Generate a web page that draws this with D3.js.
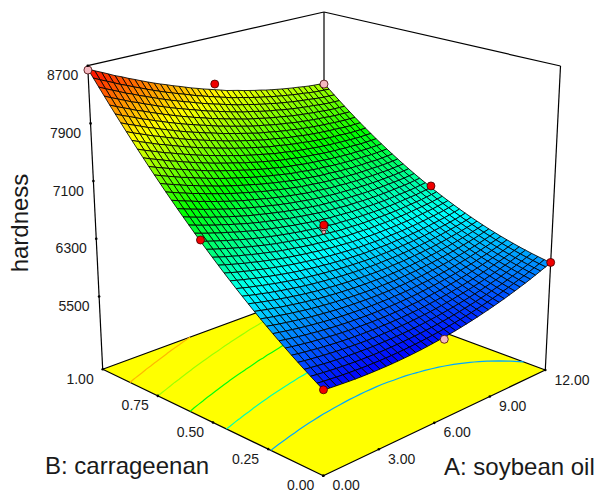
<!DOCTYPE html>
<html>
<head>
<meta charset="utf-8">
<script src="https://cdn.jsdelivr.net/npm/d3@7/dist/d3.min.js"></script>
<style>
  body { margin: 0; background: #fff; }
  text { font-family: "Liberation Sans", Arial, sans-serif; fill: #1a1a1a; }
</style>
</head>
<body>
<script>
var aTicks = [0, 3, 6, 9, 12];
var bTicks = [0, 0.25, 0.5, 0.75, 1];
var zTicks = [5500, 6300, 7100, 7900, 8700];
var zBottom = 4490;
var contourLevels = [6030, 6540, 7050, 7570, 8090];

// design points
var pointA = [0, 6, 12, 0, 6, 6, 6, 12, 0, 6, 12];
var pointB = [1, 1, 1, 0.5, 0.5, 0.5, 0.5, 0.5, 0, 0, 0];
var pointZ = [8640, 8016, 7600, 6843, 6398, 6470, 6495, 6535, 5560, 5541, 5980];

// hardness, one row per B step (0 to 1), one column per A step (0 to 12)
var hardnessRows = [
[5557,5548,5541,5534,5528,5523,5519,5517,5515,5514,5514,5515,5517,5520,5524,5529,5535,5543,5551,5560,5570,5580,5592,5605,5619,5634,5650,5667,5685,5704,5724,5744,5766,5789,5813,5837,5863,5890,5918,5946,5976],
[5607,5597,5589,5581,5574,5569,5564,5560,5557,5556,5555,5555,5556,5559,5562,5566,5571,5577,5584,5592,5601,5611,5622,5634,5647,5661,5676,5692,5709,5727,5746,5766,5787,5809,5832,5856,5880,5906,5933,5961,5990],
[5659,5648,5639,5630,5622,5616,5610,5605,5601,5599,5597,5596,5597,5599,5601,5604,5608,5613,5619,5626,5634,5643,5653,5664,5677,5690,5704,5719,5735,5752,5770,5789,5809,5830,5852,5876,5899,5924,5950,5977,6005],
[5712,5700,5690,5680,5671,5664,5657,5652,5647,5644,5641,5639,5639,5640,5641,5643,5646,5650,5655,5661,5669,5677,5686,5696,5708,5720,5733,5747,5762,5778,5795,5813,5833,5853,5874,5897,5919,5943,5968,5994,6021],
[5766,5753,5742,5732,5722,5714,5706,5700,5694,5690,5686,5683,5682,5682,5682,5684,5686,5689,5693,5698,5705,5712,5720,5729,5740,5751,5763,5777,5791,5806,5822,5839,5858,5877,5897,5919,5940,5963,5987,6013,6039],
[5822,5808,5796,5785,5774,5765,5756,5749,5742,5737,5733,5729,5727,5726,5725,5726,5727,5729,5732,5736,5742,5748,5755,5764,5774,5784,5795,5808,5821,5835,5850,5866,5884,5902,5922,5943,5963,5985,6008,6033,6058],
[5879,5864,5851,5839,5827,5818,5808,5800,5792,5786,5781,5776,5773,5771,5769,5769,5769,5771,5773,5776,5781,5786,5792,5800,5809,5818,5828,5840,5853,5866,5880,5895,5912,5929,5948,5968,5987,6008,6030,6054,6079],
[5937,5922,5908,5895,5882,5872,5861,5852,5843,5836,5830,5824,5821,5818,5815,5814,5813,5814,5815,5817,5821,5825,5830,5837,5846,5854,5863,5874,5886,5898,5911,5925,5941,5957,5975,5994,6013,6033,6054,6077,6101],
[5997,5981,5966,5952,5938,5927,5915,5905,5896,5888,5881,5874,5870,5866,5862,5860,5858,5858,5858,5860,5863,5866,5870,5876,5884,5891,5899,5909,5920,5931,5944,5957,5972,5987,6004,6022,6040,6059,6079,6101,6124],
[6058,6041,6025,6011,5996,5984,5971,5960,5950,5941,5933,5925,5920,5915,5911,5908,5905,5904,5903,5904,5906,5908,5911,5916,5923,5929,5936,5946,5956,5966,5978,5990,6004,6018,6034,6051,6068,6086,6106,6127,6149],
[6121,6103,6086,6071,6055,6042,6028,6016,6005,5995,5986,5978,5972,5966,5961,5957,5953,5951,5949,5949,5950,5951,5953,5958,5964,5969,5975,5984,5993,6002,6013,6024,6037,6051,6066,6082,6098,6115,6134,6154,6175],
[6185,6166,6148,6132,6115,6102,6087,6074,6062,6051,6041,6032,6025,6018,6012,6007,6002,6000,5997,5996,5996,5996,5997,6001,6006,6010,6015,6023,6032,6040,6050,6060,6072,6085,6099,6114,6129,6145,6163,6182,6203],
[6251,6231,6212,6195,6177,6163,6147,6133,6120,6108,6097,6087,6080,6072,6065,6059,6053,6050,6046,6044,6043,6042,6042,6045,6050,6053,6057,6064,6072,6079,6088,6097,6108,6120,6133,6148,6162,6177,6194,6212,6232],
[6318,6297,6277,6259,6240,6225,6208,6194,6180,6167,6155,6144,6136,6127,6119,6112,6105,6101,6096,6094,6092,6090,6089,6091,6095,6097,6100,6106,6113,6119,6127,6136,6146,6157,6169,6183,6196,6210,6226,6243,6262],
[6386,6364,6343,6325,6305,6289,6271,6256,6241,6227,6214,6202,6193,6183,6174,6167,6159,6154,6148,6145,6142,6139,6137,6138,6141,6142,6144,6150,6156,6161,6168,6176,6185,6195,6206,6219,6231,6244,6259,6276,6294],
[6456,6433,6411,6392,6371,6354,6335,6319,6303,6288,6274,6262,6252,6241,6231,6223,6214,6208,6201,6197,6193,6189,6186,6187,6189,6189,6190,6195,6200,6204,6210,6217,6225,6235,6245,6257,6268,6280,6294,6310,6327],
[6527,6503,6480,6460,6438,6421,6401,6384,6367,6351,6336,6323,6312,6300,6289,6280,6270,6264,6256,6251,6246,6241,6237,6237,6238,6237,6237,6241,6246,6249,6254,6260,6267,6276,6285,6296,6306,6317,6330,6345,6362],
[6600,6575,6551,6530,6507,6489,6468,6450,6432,6415,6399,6385,6373,6361,6349,6339,6328,6321,6312,6306,6300,6294,6289,6289,6289,6287,6286,6289,6293,6295,6299,6304,6310,6318,6326,6337,6346,6356,6368,6382,6398],
[6674,6648,6623,6601,6577,6558,6536,6517,6499,6481,6464,6449,6436,6423,6410,6399,6387,6379,6369,6362,6356,6349,6343,6342,6341,6338,6336,6338,6341,6342,6345,6350,6355,6362,6369,6379,6387,6396,6407,6420,6435],
[6749,6722,6697,6674,6649,6629,6606,6586,6567,6548,6530,6514,6500,6486,6473,6461,6448,6439,6428,6420,6413,6405,6398,6396,6394,6390,6388,6389,6391,6391,6393,6397,6401,6407,6413,6422,6429,6437,6448,6460,6474],
[6826,6798,6772,6748,6722,6701,6677,6656,6636,6616,6598,6581,6566,6551,6537,6524,6510,6500,6488,6479,6471,6463,6455,6452,6449,6444,6441,6441,6442,6441,6442,6445,6448,6454,6459,6467,6473,6480,6490,6501,6514],
[6904,6875,6848,6823,6796,6775,6750,6728,6707,6686,6667,6649,6633,6617,6602,6588,6573,6563,6550,6540,6531,6522,6513,6509,6505,6499,6495,6494,6495,6493,6493,6495,6497,6502,6506,6513,6518,6524,6533,6544,6556],
[6984,6954,6926,6900,6872,6850,6824,6801,6779,6757,6737,6718,6702,6685,6669,6654,6638,6627,6613,6602,6592,6582,6572,6567,6563,6556,6551,6549,6549,6546,6545,6546,6547,6551,6554,6561,6565,6570,6578,6588,6599],
[7065,7034,7005,6978,6949,6926,6899,6876,6853,6830,6809,6789,6772,6754,6737,6721,6704,6692,6677,6666,6655,6644,6633,6627,6622,6614,6608,6605,6604,6600,6599,6599,6599,6602,6604,6610,6613,6617,6624,6633,6643],
[7147,7115,7086,7058,7028,7004,6976,6952,6928,6904,6882,6861,6843,6824,6807,6790,6772,6759,6743,6731,6719,6707,6695,6688,6682,6673,6667,6663,6661,6656,6654,6653,6652,6654,6655,6660,6662,6665,6672,6680,6689],
[7231,7198,7168,7139,7108,7083,7054,7029,7004,6979,6957,6935,6916,6896,6878,6860,6841,6827,6810,6797,6784,6771,6758,6751,6744,6734,6727,6722,6719,6713,6710,6708,6706,6708,6708,6712,6713,6715,6721,6728,6736],
[7316,7282,7251,7221,7189,7164,7134,7108,7082,7056,7033,7010,6990,6969,6950,6931,6911,6897,6879,6865,6851,6837,6823,6815,6807,6796,6788,6782,6779,6772,6768,6765,6762,6763,6762,6765,6765,6766,6771,6777,6785],
[7403,7368,7336,7305,7272,7246,7215,7188,7161,7134,7110,7086,7066,7044,7024,7004,6983,6968,6949,6934,6919,6904,6889,6880,6872,6860,6851,6844,6840,6832,6827,6823,6819,6819,6817,6820,6819,6819,6823,6828,6835],
[7491,7455,7422,7390,7356,7329,7298,7270,7242,7214,7189,7164,7143,7120,7099,7078,7056,7040,7020,7005,6989,6973,6957,6947,6938,6925,6915,6907,6902,6893,6887,6883,6878,6877,6874,6876,6874,6873,6876,6880,6886],
[7580,7543,7510,7477,7442,7414,7382,7353,7324,7295,7269,7243,7221,7197,7176,7154,7131,7114,7093,7077,7060,7043,7026,7015,7005,6991,6981,6972,6966,6956,6949,6944,6938,6936,6932,6933,6930,6929,6931,6934,6939],
[7671,7633,7599,7565,7529,7500,7467,7437,7407,7378,7351,7324,7301,7276,7254,7231,7207,7189,7167,7150,7132,7115,7097,7085,7074,7059,7048,7038,7031,7020,7012,7006,7000,6997,6992,6992,6988,6986,6987,6989,6993],
[7763,7724,7689,7654,7617,7588,7554,7523,7492,7462,7434,7406,7382,7356,7333,7309,7284,7265,7243,7225,7206,7188,7169,7156,7144,7128,7116,7105,7097,7085,7076,7070,7063,7059,7053,7052,7047,7044,7044,7046,7049],
[7857,7817,7781,7745,7707,7677,7642,7610,7578,7547,7518,7490,7465,7438,7414,7389,7363,7343,7320,7301,7281,7262,7242,7229,7216,7199,7186,7174,7165,7152,7142,7135,7127,7122,7116,7114,7108,7104,7103,7104,7106],
[7952,7911,7874,7837,7798,7767,7731,7699,7666,7634,7604,7575,7549,7521,7496,7470,7443,7422,7399,7379,7358,7338,7317,7303,7289,7271,7257,7244,7234,7220,7210,7202,7193,7187,7180,7177,7170,7165,7163,7163,7164],
[8048,8006,7969,7931,7891,7859,7822,7789,7755,7722,7691,7661,7634,7605,7580,7553,7525,7503,7479,7458,7436,7415,7393,7378,7363,7345,7330,7316,7305,7290,7279,7270,7260,7253,7245,7241,7233,7228,7225,7224,7224],
[8146,8103,8065,8026,7985,7952,7914,7880,7845,7812,7780,7749,7721,7691,7665,7637,7608,7585,7560,7538,7515,7494,7471,7455,7439,7420,7404,7389,7377,7361,7349,7339,7329,7321,7312,7307,7298,7292,7288,7286,7285],
[8245,8201,8162,8122,8080,8047,8008,7973,7937,7903,7870,7838,7809,7778,7751,7722,7693,7669,7643,7620,7596,7574,7550,7533,7516,7496,7479,7463,7451,7434,7421,7410,7399,7390,7380,7374,7364,7357,7352,7350,7348],
[8346,8301,8261,8220,8177,8143,8103,8067,8030,7995,7961,7928,7899,7867,7839,7809,7779,7754,7727,7703,7678,7655,7630,7613,7595,7574,7556,7539,7526,7508,7494,7482,7470,7460,7450,7443,7432,7424,7418,7415,7412],
[8448,8402,8361,8319,8275,8240,8199,8163,8125,8089,8054,8020,7990,7957,7928,7897,7866,7840,7812,7788,7762,7738,7712,7694,7675,7653,7634,7616,7602,7583,7569,7556,7543,7532,7521,7513,7501,7492,7485,7481,7477],
[8551,8504,8463,8420,8375,8339,8297,8260,8221,8184,8148,8113,8082,8048,8019,7987,7955,7928,7899,7874,7847,7822,7795,7776,7756,7733,7714,7695,7680,7660,7645,7631,7617,7605,7593,7584,7571,7561,7554,7549,7544],
[8656,8608,8566,8522,8476,8439,8396,8358,8318,8280,8243,8208,8176,8141,8111,8078,8045,8017,7987,7961,7933,7907,7879,7859,7839,7815,7795,7775,7759,7738,7722,7707,7692,7679,7666,7656,7643,7632,7624,7618,7612]
];

var width = 597;
var height = 491;
var steps = hardnessRows.length - 1;

// box corners on the page: [A=0 B=0], [A=12 B=0], [A=12 B=1], [A=0 B=1]
var floorQuad = [[323.3, 475.7], [545.3, 370], [324, 288], [102.7, 369.3]];
var roofQuad = [[324, 137.7], [560.5, 66], [324, 12], [87.7, 65.7]];

function squareToQuad(q) {
  var dx1 = q[1][0] - q[2][0], dx2 = q[3][0] - q[2][0], sx = q[0][0] - q[1][0] + q[2][0] - q[3][0];
  var dy1 = q[1][1] - q[2][1], dy2 = q[3][1] - q[2][1], sy = q[0][1] - q[1][1] + q[2][1] - q[3][1];
  var den = dx1 * dy2 - dx2 * dy1;
  var g = (sx * dy2 - dx2 * sy) / den;
  var h = (dx1 * sy - sx * dy1) / den;
  return function (u, v) {
    var w = 1 + g * u + h * v;
    return [
      (q[0][0] + (q[1][0] * (1 + g) - q[0][0]) * u + (q[3][0] * (1 + h) - q[0][0]) * v) / w,
      (q[0][1] + (q[1][1] * (1 + g) - q[0][1]) * u + (q[3][1] * (1 + h) - q[0][1]) * v) / w
    ];
  };
}

var floorAt = squareToQuad(floorQuad);
var roofAt = squareToQuad(roofQuad);

var xA = d3.scaleLinear().domain([0, 12]).range([0, 1]);
var xB = d3.scaleLinear().domain([0, 1]).range([0, 1]);
var xZ = d3.scaleLinear().domain([zBottom, d3.max(zTicks)]).range([0, 1]);

function project(a, b, z) {
  var lo = floorAt(xA(a), xB(b));
  var hi = roofAt(xA(a), xB(b));
  var t = xZ(z);
  return [lo[0] + (hi[0] - lo[0]) * t, lo[1] + (hi[1] - lo[1]) * t];
}

var flat = d3.merge(hardnessRows);
var zExtent = d3.extent(flat);
var zStep = (zExtent[1] - zExtent[0]) / 4;
var color = d3.scaleLinear()
  .domain([0, 1, 2, 3, 4].map(function (k) { return zExtent[0] + k * zStep; }))
  .range(["#0000ff", "#00ffff", "#00ff00", "#ffff00", "#ff0000"]);

// tick marks run evenly along the box edges, not through the perspective
var aEdgeX = d3.scaleLinear().domain([0, 12]).range([floorQuad[0][0], floorQuad[1][0]]);
var aEdgeY = d3.scaleLinear().domain([0, 12]).range([floorQuad[0][1], floorQuad[1][1]]);
var bEdgeX = d3.scaleLinear().domain([0, 1]).range([floorQuad[0][0], floorQuad[3][0]]);
var bEdgeY = d3.scaleLinear().domain([0, 1]).range([floorQuad[0][1], floorQuad[3][1]]);
var zEdgeX = d3.scaleLinear().domain([zBottom, 8700]).range([floorQuad[3][0], roofQuad[3][0]]);
var zEdgeY = d3.scaleLinear().domain([zBottom, 8700]).range([floorQuad[3][1], roofQuad[3][1]]);

var line = d3.line();

var svg = d3.select("body").append("svg")
  .attr("width", width)
  .attr("height", height);

// box lines behind the surface
var boxLines = [
  [floorQuad[3], roofQuad[3]],
  [roofQuad[3], roofQuad[2]],
  [roofQuad[2], roofQuad[1]],
  [roofQuad[1], floorQuad[1]],
  [roofQuad[2], floorQuad[2]]
];
svg.selectAll("path.box").data(boxLines).enter().append("path")
  .attr("class", "box")
  .attr("d", function (d) { return line(d); })
  .attr("fill", "none")
  .attr("stroke", "#000")
  .attr("stroke-width", 1.2);

svg.append("path")
  .attr("d", line(floorQuad) + "Z")
  .attr("fill", "#ffff00")
  .attr("stroke", "#000")
  .attr("stroke-width", 1.2)
  .attr("stroke-linejoin", "round");

// contours on the floor
var contours = d3.contours().size([steps + 1, steps + 1]).thresholds(contourLevels)(flat);

function openLines(ring) {
  var lines = [];
  var current = [];
  ring.forEach(function (p) {
    if (p[0] <= 0 || p[0] >= steps + 1 || p[1] <= 0 || p[1] >= steps + 1) {
      if (current.length > 1) lines.push(current);
      current = [];
    } else {
      current.push(floorAt((p[0] - 0.5) / steps, (p[1] - 0.5) / steps));
    }
  });
  if (current.length > 1) lines.push(current);
  return lines;
}

contours.forEach(function (c) {
  c.coordinates.forEach(function (poly) {
    poly.forEach(function (ring) {
      openLines(ring).forEach(function (pts) {
        svg.append("path")
          .attr("d", line(pts))
          .attr("fill", "none")
          .attr("stroke", color(c.value))
          .attr("stroke-width", 1.2);
      });
    });
  });
});

// surface cells, far corner first
var cells = [];
for (var j = steps - 1; j >= 0; j--) {
  for (var i = steps - 1; i >= 0; i--) {
    cells.push({ i: i, j: j });
  }
}

function gridPoint(i, j) {
  return project(i / steps * 12, j / steps, hardnessRows[j][i]);
}

svg.append("g").selectAll("path").data(cells).enter().append("path")
  .attr("d", function (d) {
    return line([gridPoint(d.i, d.j), gridPoint(d.i + 1, d.j), gridPoint(d.i + 1, d.j + 1), gridPoint(d.i, d.j + 1)]) + "Z";
  })
  .attr("fill", function (d) {
    return color((hardnessRows[d.j][d.i] + hardnessRows[d.j][d.i + 1] + hardnessRows[d.j + 1][d.i] + hardnessRows[d.j + 1][d.i + 1]) / 4);
  })
  .attr("stroke", "#000")
  .attr("stroke-width", 0.85);

// design points: red above the surface, pink below it
var points = pointA.map(function (a, k) {
  var surface = hardnessRows[Math.round(pointB[k] * steps)][Math.round(a / 12 * steps)];
  return { a: a, b: pointB[k], z: pointZ[k], surface: surface };
});

svg.append("g").selectAll("circle").data(points).enter().append("circle")
  .attr("cx", function (d) { return project(d.a, d.b, d.z)[0]; })
  .attr("cy", function (d) { return project(d.a, d.b, d.z)[1]; })
  .attr("r", function (d) { return d.surface - d.z > 50 ? 2 : 4; })
  .attr("fill", function (d) { return d.z > d.surface ? "#f00000" : "#f5b8c0"; })
  .attr("stroke", "#400000")
  .attr("stroke-width", 0.8);

// floor and height axis ticks
function dots(ticks, fx, fy) {
  svg.append("g").selectAll("circle").data(ticks).enter().append("circle")
    .attr("cx", fx)
    .attr("cy", fy)
    .attr("r", 1.3)
    .attr("fill", "#000");
}
dots(aTicks, aEdgeX, aEdgeY);
dots(bTicks, bEdgeX, bEdgeY);
dots(zTicks, zEdgeX, zEdgeY);

function labels(ticks, fx, fy, format, anchor, dx, dy) {
  svg.append("g").selectAll("text").data(ticks).enter().append("text")
    .attr("x", function (d) { return fx(d) + dx; })
    .attr("y", function (d) { return fy(d) + dy; })
    .attr("text-anchor", anchor)
    .attr("font-size", 14)
    .text(format);
}
labels(aTicks, aEdgeX, aEdgeY, d3.format(".2f"), "start", 9.2, 14.5);
labels(bTicks, bEdgeX, bEdgeY, d3.format(".2f"), "end", -9, 14.5);
labels(zTicks, zEdgeX, zEdgeY, d3.format("d"), "end", -9.5, 14.5);

svg.append("text")
  .attr("x", 444)
  .attr("y", 474.5)
  .attr("font-size", 24)
  .text("A: soybean oil");

svg.append("text")
  .attr("x", 45)
  .attr("y", 473.5)
  .attr("font-size", 24)
  .text("B: carrageenan");

svg.append("text")
  .attr("transform", "translate(27.5,223) rotate(-90)")
  .attr("text-anchor", "middle")
  .attr("font-size", 24)
  .text("hardness");
</script>
</body>
</html>
